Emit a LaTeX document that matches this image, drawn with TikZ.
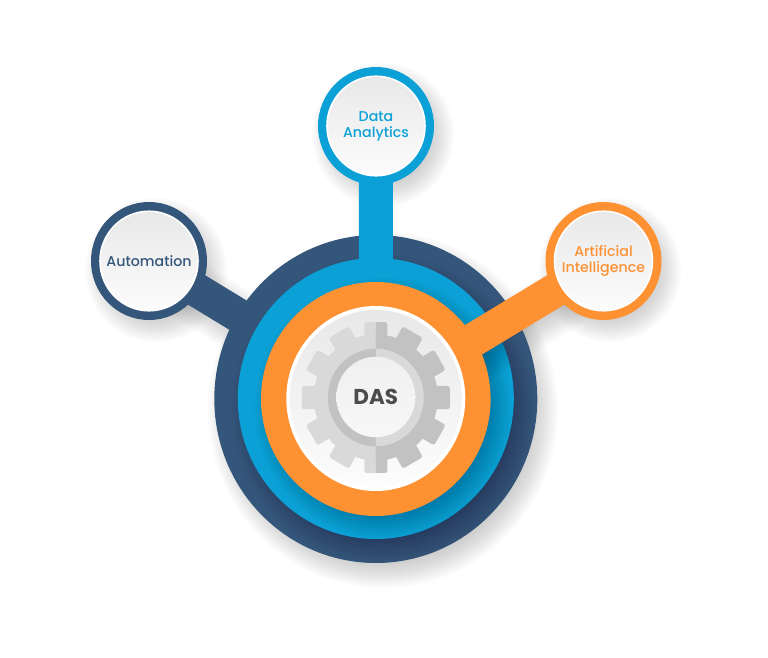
\documentclass[tikz,border=0pt]{standalone}
\usepackage{fontspec}
\setmainfont{Poppins}
\newfontfamily\labelfont{Poppins Medium}
\usetikzlibrary{positioning,shapes.geometric}
\definecolor{darkring}{HTML}{34567A}
\definecolor{bluering}{HTML}{0BA1D6}
\definecolor{orangering}{HTML}{FE9132}
\definecolor{geartone}{HTML}{D9D9D9}
\definecolor{geardark}{HTML}{C2C2C2}
\tikzset{
	disc/.style n args={2}{ellipse, inner sep=0pt, minimum width=#1, minimum height=#2},
	ring/.style={disc={116pt}{118pt}},
	link/.style={line width=34pt},
	face/.style={disc={98pt}{99.5pt}, draw=white, line width=1.6pt,
		top color=black!9, bottom color=black!1},
	caption/.style={inner sep=0pt, align=center, font=\labelfont\fontsize{14.2}{16}\selectfont},
	tooth/.style={rounded corners=2.5pt, shift={(375.8,397.5)}, yscale=1.02},
}
% soft shadow of a round shape: centre x, centre y, width radius, height radius
\newcommand{\softround}[4]{
	\foreach \s in {0,...,13}
	\fill[black, opacity=0.017] (#1,#2) ellipse ({#3+14-2*\s} and {#4+14-2*\s});
}
% soft shadow of a link between two points
\newcommand{\softlink}[2]{
	\foreach \s in {0,...,13}
	\draw[black, opacity=0.017, line width={34+28-4*\s}] (#1) -- (#2);
}
\begin{document}
\begin{tikzpicture}[x=1pt, y=-1pt]
	\useasboundingbox (0,0) rectangle (768,658);
	%shadows on the page
	\softround{383}{410}{161}{164}
	\softround{156}{270}{57}{58}
	\softround{383}{135}{57}{58}
	\softround{610}{270}{57}{58}
	\softlink{156,270}{383,410}
	\softlink{610,270}{383,410}

	%rings
	\node[ring, fill=darkring] (autoring) at (149,261) {};
	\node[ring, fill=bluering] (dataring) at (376,126) {};
	\node[ring, fill=orangering] (airing) at (603.5,261) {};

	%outer disc
	\node[disc={323pt}{328pt}, fill=darkring] (darkdisc) at (375.8,399) {};
	\draw[link, darkring] (autoring.center) -- (darkdisc.center);
	\begin{scope}
		\clip (375.8,399) ellipse (161.5 and 164);
		\softround{383}{409}{138}{140.5}
	\end{scope}

	%middle disc
	\node[disc={276pt}{281pt}, fill=bluering] (bluedisc) at (375.8,398.5) {};
	\draw[link, bluering] (dataring.center) -- (bluedisc.center);
	\begin{scope}
		\clip (375.8,398.5) ellipse (138 and 140.5);
		\softround{383}{408}{114.8}{117}
		\softlink{610,272}{384,408}
	\end{scope}

	%inner disc
	\node[disc={229.6pt}{234pt}, fill=orangering] (orangedisc) at (375.8,399) {};
	\draw[link, orangering] (airing.center) -- (orangedisc.center);
	\node[disc={179pt}{185pt}, fill=white] (whitedisc) at (375.8,398.5) {};
	\node[disc={172pt}{177pt}, top color=black!9, bottom color=black!1] (maindisc) at (375.8,398.5) {};

	%gear
	\begin{scope}
		\clip (290,300) rectangle (375.8,500);
		\foreach \a in {0,30,...,330}
		\fill[geartone, tooth, rotate=\a] (-11.5,-74) rectangle (11.5,-50);
		\fill[geartone] (375.8,397.5) ellipse (62 and 63);
		\fill[geardark] (375.8,397.5) ellipse (48 and 48.8);
	\end{scope}
	\begin{scope}
		\clip (375.8,300) rectangle (462,500);
		\foreach \a in {0,30,...,330}
		\fill[geardark, tooth, rotate=\a] (-11.5,-74) rectangle (11.5,-50);
		\fill[geardark] (375.8,397.5) ellipse (62 and 63);
		\fill[geartone] (375.8,397.5) ellipse (48 and 48.8);
	\end{scope}
	\node[disc={79pt}{80.5pt}, top color=black!6, bottom color=black!3, text=black!70,
		font=\fontsize{21.5}{22}\selectfont\bfseries] (das) at (375.8,397) {DAS};

	%labels
	\node[face] (autoface) at (149,261) {};
	\node[face] (dataface) at (376,126) {};
	\node[face] (aiface) at (603.5,261) {};
	\node[caption, text=darkring] (autotext) at (autoface) {Automation};
	\node[caption, text=bluering] (datatext) at (dataface) {Data\\Analytics};
	\node[caption, text=orangering] (aitext) at (aiface) {Artificial\\Intelligence};
\end{tikzpicture}
\end{document}
